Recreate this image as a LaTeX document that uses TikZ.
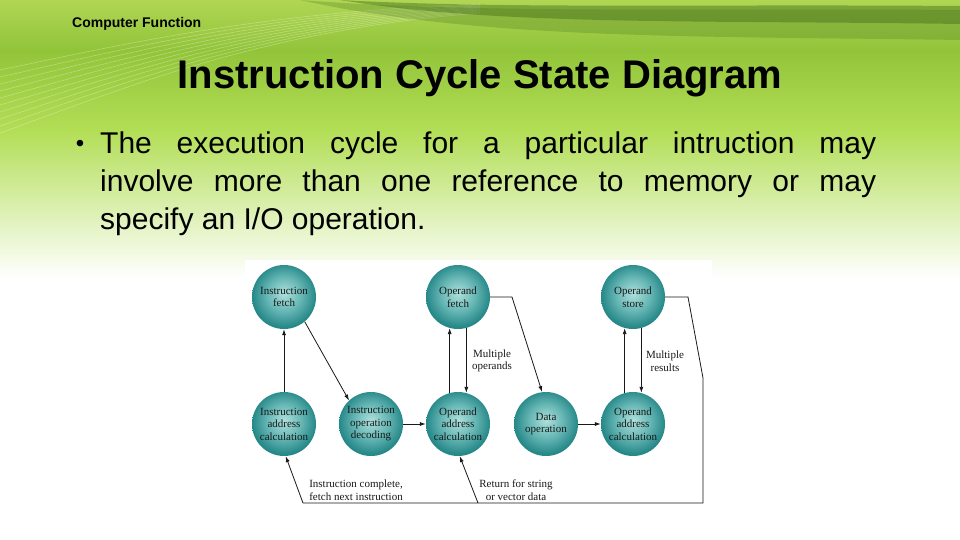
\documentclass[tikz,border=0pt]{standalone}
\usepackage{fontspec}
\setmainfont{Liberation Sans}
\newfontfamily\figfont{Liberation Serif}
\usepackage{tikz}
\usetikzlibrary{arrows.meta, calc}
\definecolor{bandgreen}{RGB}{66,110,26}
\definecolor{lightgreen}{RGB}{176,214,84}
\definecolor{limegreen}{RGB}{146,196,58}
\definecolor{palegreen}{RGB}{178,222,86}
\definecolor{ballhi}{RGB}{175,224,220}
\definecolor{ballmid}{RGB}{104,184,182}
\definecolor{balllo}{RGB}{38,136,136}
\definecolor{inkdark}{RGB}{25,25,25}
\pgfdeclareradialshading{tealball}{\pgfpoint{0bp}{3bp}}{%
  color(0bp)=(ballhi); color(13bp)=(ballmid); color(25bp)=(balllo); color(50bp)=(balllo)}
\tikzset{
  stnode/.style={circle, minimum size=64pt, inner sep=0pt, shading=tealball,
    align=center, text=inkdark, font=\figfont\fontsize{11}{12.5}\selectfont},
  flow/.style={-{Latex[length=6pt,width=4pt]}, line width=0.8pt, color=inkdark},
  wire/.style={line width=0.8pt, color=inkdark},
  tag/.style={align=center, inner sep=0pt, text=inkdark,
    font=\figfont\fontsize{11}{12.5}\selectfont}
}

\begin{document}
\begin{tikzpicture}[x=1pt, y=-1pt]
  \useasboundingbox (0,0) rectangle (960,540);
  % Slide background
  \fill[white] (0,0) rectangle (960,540);
  \fill[top color=lightgreen, bottom color=limegreen] (0,0) rectangle (960,50);
  \fill[top color=limegreen, bottom color=palegreen] (0,50) rectangle (960,130);
  \fill[top color=palegreen, bottom color=white] (0,130) rectangle (960,278);
  \foreach \i in {0,...,9}
    \draw[white, opacity=0.3, line width=0.6pt] (0,70+\i*7) .. controls (120,45+\i*5) and (260,12+\i*2) .. (480,4+\i);
  % dark sweep along the top
  \fill[bandgreen, opacity=0.25] (300,0) .. controls (480,14) and (700,8) .. (960,10) -- (960,40) .. controls (700,36) and (480,40) .. (300,0) -- cycle;
  \fill[bandgreen, opacity=0.45] (340,0) .. controls (500,9) and (700,4) .. (960,6) -- (960,24) .. controls (700,20) and (500,26) .. (340,0) -- cycle;

  % Slide texts
  \node[anchor=base west, inner sep=0pt, font=\bfseries\fontsize{14}{16}\selectfont] (section) at (72,28) {Computer Function};
  \node[anchor=base, inner sep=0pt, font=\bfseries\fontsize{40}{44}\selectfont] (title) at (480,89) {Instruction Cycle State Diagram};
  \node[anchor=base, inner sep=0pt, font=\fontsize{24}{38}\selectfont] (dot) at (80,152) {•};
  \node[anchor=north west, inner sep=0pt, text width=776pt, align=justify,
    font=\fontsize{30}{38}\selectfont] (body) at (100,132)
    {The execution cycle for a particular intruction may\linebreak
     involve more than one reference to memory or may\linebreak
     specify an I/O operation.};

  % Figure panel
  \fill[white] (245,260) rectangle (712,512);

  % States, upper row
  \node[stnode] (ifetch) at (284,297) {Instruction\\fetch};
  \node[stnode] (ofetch) at (458,297) {Operand\\fetch};
  \node[stnode] (ostore) at (633,297) {Operand\\store};
  % States, lower row
  \node[stnode] (iaddr) at (284,424) {Instruction\\address\\calculation};
  \node[stnode] (idecode) at (371,424) {Instruction\\operation\\decoding};
  \node[stnode] (oaddr) at (458,424) {Operand\\address\\calculation};
  \node[stnode] (dataop) at (546,424) {Data\\operation};
  \node[stnode] (oaddrb) at (633,424) {Operand\\address\\calculation};

  % Bends of the return paths
  \coordinate (ofk) at (512,297);
  \coordinate (osk) at (688,297);
  \coordinate (rtop) at (703,378);
  \coordinate (rbot) at (703,503);
  \coordinate (mbot) at (478,503);
  \coordinate (lbot) at (303,503);

  % Transitions
  \draw[flow] (iaddr) -- (ifetch);
  \draw[flow] (ifetch.-50) -- (idecode.133);
  \draw[flow] (idecode) -- (oaddr);
  \draw[flow] (oaddr.105) -- (ofetch.-105);
  \draw[flow] (ofetch.-75) -- (oaddr.75);
  \draw[flow] (ofetch.east) -- (ofk) -- (dataop.97);
  \draw[flow] (dataop) -- (oaddrb);
  \draw[flow] (oaddrb.105) -- (ostore.-105);
  \draw[flow] (ostore.-75) -- (oaddrb.75);
  \draw[wire] (ostore.east) -- (osk) -- (rtop) -- (rbot) -- (lbot);
  \draw[flow] (lbot) -- (iaddr.-87);
  \draw[flow] (mbot) -- (oaddr.-87);

  % Labels
  \node[tag] (mops) at (492,361) {Multiple\\operands};
  \node[tag] (mres) at (665,361) {Multiple\\results};
  \node[tag] (idone) at (356,490) {Instruction complete,\\fetch next instruction};
  \node[tag] (rstr) at (516,490) {Return for string\\or vector data};
\end{tikzpicture}
\end{document}
